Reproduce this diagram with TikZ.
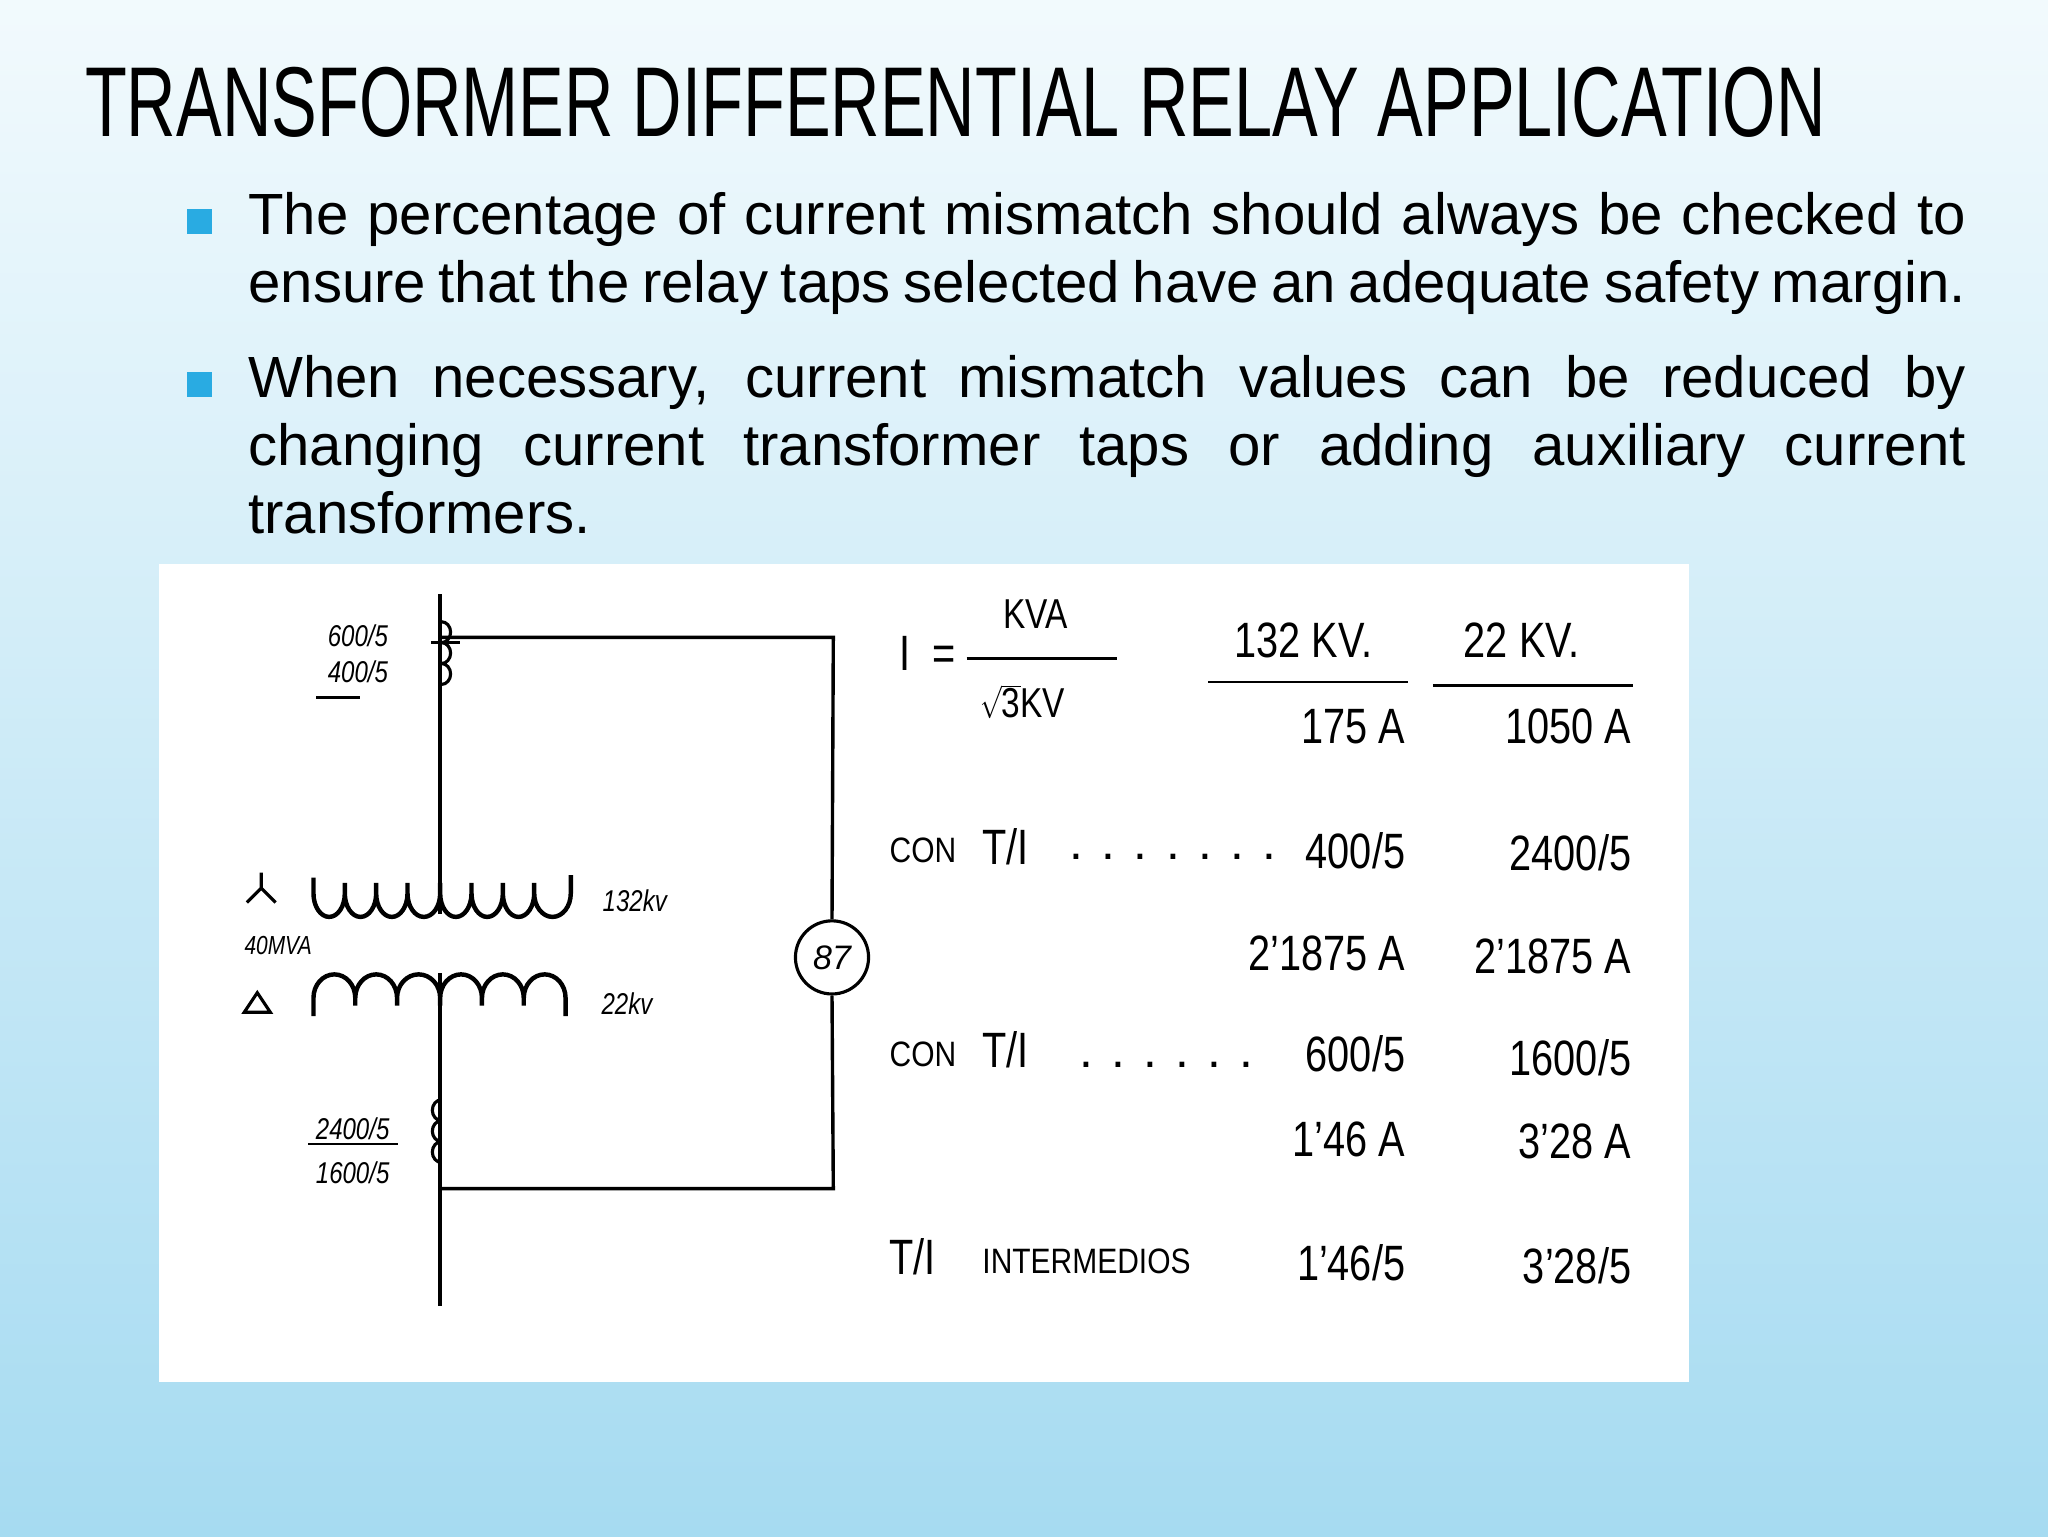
\documentclass[tikz,border=0pt]{standalone}
\usepackage{fontspec}
\setmainfont{Liberation Sans}
\usetikzlibrary{calc}
\definecolor{bgtop}{HTML}{F2FAFD}
\definecolor{bgbot}{HTML}{A6DBF1}
\definecolor{bul}{HTML}{29ABE2}
\tikzset{hw/.style={font=\fontsize{38}{38}\selectfont, xscale=0.8, inner sep=0},
 sc/.style={font=\fontsize{27}{27}\selectfont, xscale=0.85, inner sep=0},
 hws/.style={font=\fontsize{23}{23}\selectfont\itshape, xscale=0.8, inner sep=0},
 wire/.style={line width=2.6pt},
 body/.style={text width=1315pt, align=justify, anchor=north west, inner sep=0, font=\fontsize{44.5}{52}\selectfont}}
\begin{document}
\begin{tikzpicture}[x=1pt,y=-1pt]
\shade[top color=bgtop, bottom color=bgbot] (0,0) rectangle (1568,1176);
\useasboundingbox (0,0) rectangle (1568,1176);
% title
\node[anchor=west, inner sep=0, font=\fontsize{76}{76}\selectfont, xscale=0.69] (title) at (65,78) {TRANSFORMER DIFFERENTIAL RELAY APPLICATION};
% bullets
\fill[bul] (143,160) rectangle (162,179);
\fill[bul] (143,285) rectangle (162,304);
\node[body] (b1) at (190,147) {The percentage of current mismatch should always be checked to ensure that the relay taps selected have an adequate safety \mbox{margin.}};
\node[body] (b2) at (190,272) {When necessary, current mismatch values can be reduced by changing current transformer taps or adding auxiliary current \mbox{transformers.}};
% white panel
\fill[white] (122,432) rectangle (1293,1058);
% diagram wiring
\coordinate (t0) at (337,455);
\coordinate (t1) at (337,700);
\coordinate (b0) at (337,745);
\coordinate (b1c) at (337,1000);
\coordinate (c1) at (337,488);
\coordinate (c2) at (638,488);
\coordinate (c3) at (638,910);
\coordinate (c4) at (337,910);
\draw[wire] (t0) -- (t1);
\draw[wire] (b0) -- (b1c);
\node[circle, draw, line width=2.4pt, minimum size=56pt, inner sep=0, font=\fontsize{26}{26}\selectfont\itshape] (r87) at (637,733) {87};
\draw[wire] (c1) -- (c2) -- (r87.north);
\draw[wire] (r87.south) -- (c3) -- (c4);
% CTs
\draw[line width=2.4pt] (338,492) arc (90:-90:7 and 8) (338,508) arc (90:-90:7 and 8) (338,524) arc (90:-90:7 and 8);
\draw[line width=2.4pt] (330,492) -- (352,492);
\draw[line width=2.4pt] (338,858) arc (90:270:7 and 8) (338,874) arc (90:270:7 and 8) (338,890) arc (90:270:7 and 8);
% wye coil (u humps, open at top)
\draw[line width=3.4pt] (240,672) -- (240,684) arc (180:0:12 and 18) -- (264,676) -- (264,684) arc (180:0:12 and 18) -- (288,676) -- (288,684) arc (180:0:12 and 18) -- (312,676)-- (312,684) arc (180:0:12.5 and 18) -- (337,676) -- (337,684) arc (180:0:12 and 18) -- (361,676) -- (361,684) arc (180:0:12 and 18) -- (385,676) -- (385,684) arc (180:0:12 and 18) -- (409,676) -- (409,684) arc (180:0:14 and 18) -- (437,670);
% delta coil (n humps)
\draw[line width=3.4pt] (240,778) -- (240,764) arc (180:360:16 and 18) -- (272,770) -- (272,764) arc (180:360:16 and 18) -- (304,770) -- (304,764) arc (180:360:16.5 and 18) -- (337,770) -- (337,764) arc (180:360:16 and 18) -- (369,770) -- (369,764) arc (180:360:16 and 18) -- (401,770) -- (401,764) arc (180:360:16 and 18) -- (433,778);
% wye and delta symbols
\draw[line width=2.4pt] (200,680) -- (200,668) (200,680) -- (189,691) (200,680) -- (211,691);
\draw[line width=2.4pt] (187,775) -- (197,760) -- (207,775) -- cycle;
% diagram labels
\node[hws] (l600) at (274,487) {600/5};
\node[hws] (l400) at (274,514) {400/5};
\draw[line width=1.8pt] (242,534) -- (276,534);
\node[hws] (l132) at (486,690) {132kv};
\node[hws, font=\fontsize{20}{20}\selectfont\itshape] (lmva) at (213,724) {40MVA};
\node[hws] (l22) at (480,768) {22kv};
\node[hws] (l2400) at (270,864) {2400/5};
\draw[line width=1.8pt] (236,876) -- (305,876);
\node[hws] (l1600) at (270,898) {1600/5};
% formula
\node[hw] (I) at (710,500) {I\ \ =};
\node[hw, font=\fontsize{32}{32}\selectfont] (kva) at (793,470) {KVA};
\draw[line width=2pt] (740,504) -- (855,504);
\node[hw, font=\fontsize{32}{32}\selectfont] (s3) at (783,537) {$\sqrt{\mathrm{3}}$KV};
\node[hw] (h132) at (998,490) {132 KV.};
\draw[line width=2pt] (925,522) -- (1078,522);
\node[hw] (h22) at (1165,490) {22 KV.};
\draw[line width=2pt] (1097,525) -- (1250,525);
\node[hw, anchor=east] (a175) at (1076,556) {175 A};
\node[hw, anchor=east] (a1050) at (1249,556) {1050 A};
\node[sc, anchor=west] (con1) at (681,651) {CON};
\node[hw, anchor=west] (ti1) at (752,648) {T/I};
\node[font=\fontsize{38}{38}\selectfont, inner sep=0] (d1) at (898,656) {. . . . . . .};
\node[hw, anchor=east] (r400) at (1076,651) {400/5};
\node[hw, anchor=east] (r2400) at (1249,653) {2400/5};
\node[hw, anchor=east] (x1) at (1076,730) {2'1875 A};
\node[hw, anchor=east] (x2) at (1249,732) {2'1875 A};
\node[sc, anchor=west] (con2) at (681,807) {CON};
\node[hw, anchor=west] (ti2) at (752,804) {T/I};
\node[font=\fontsize{38}{38}\selectfont, inner sep=0] (d2) at (893,815) {. . . . . .};
\node[hw, anchor=east] (r600) at (1076,807) {600/5};
\node[hw, anchor=east] (r1600) at (1249,810) {1600/5};
\node[hw, anchor=east] (y1) at (1076,872) {1'46 A};
\node[hw, anchor=east] (y2) at (1249,874) {3'28 A};
\node[hw, anchor=west] (ti) at (681,962) {T/I};
\node[sc, anchor=west] (inter) at (752,966) {INTERMEDIOS};
\node[hw, anchor=east] (z1) at (1076,967) {1'46/5};
\node[hw, anchor=east] (z2) at (1249,969) {3'28/5};
\end{tikzpicture}
\end{document}
